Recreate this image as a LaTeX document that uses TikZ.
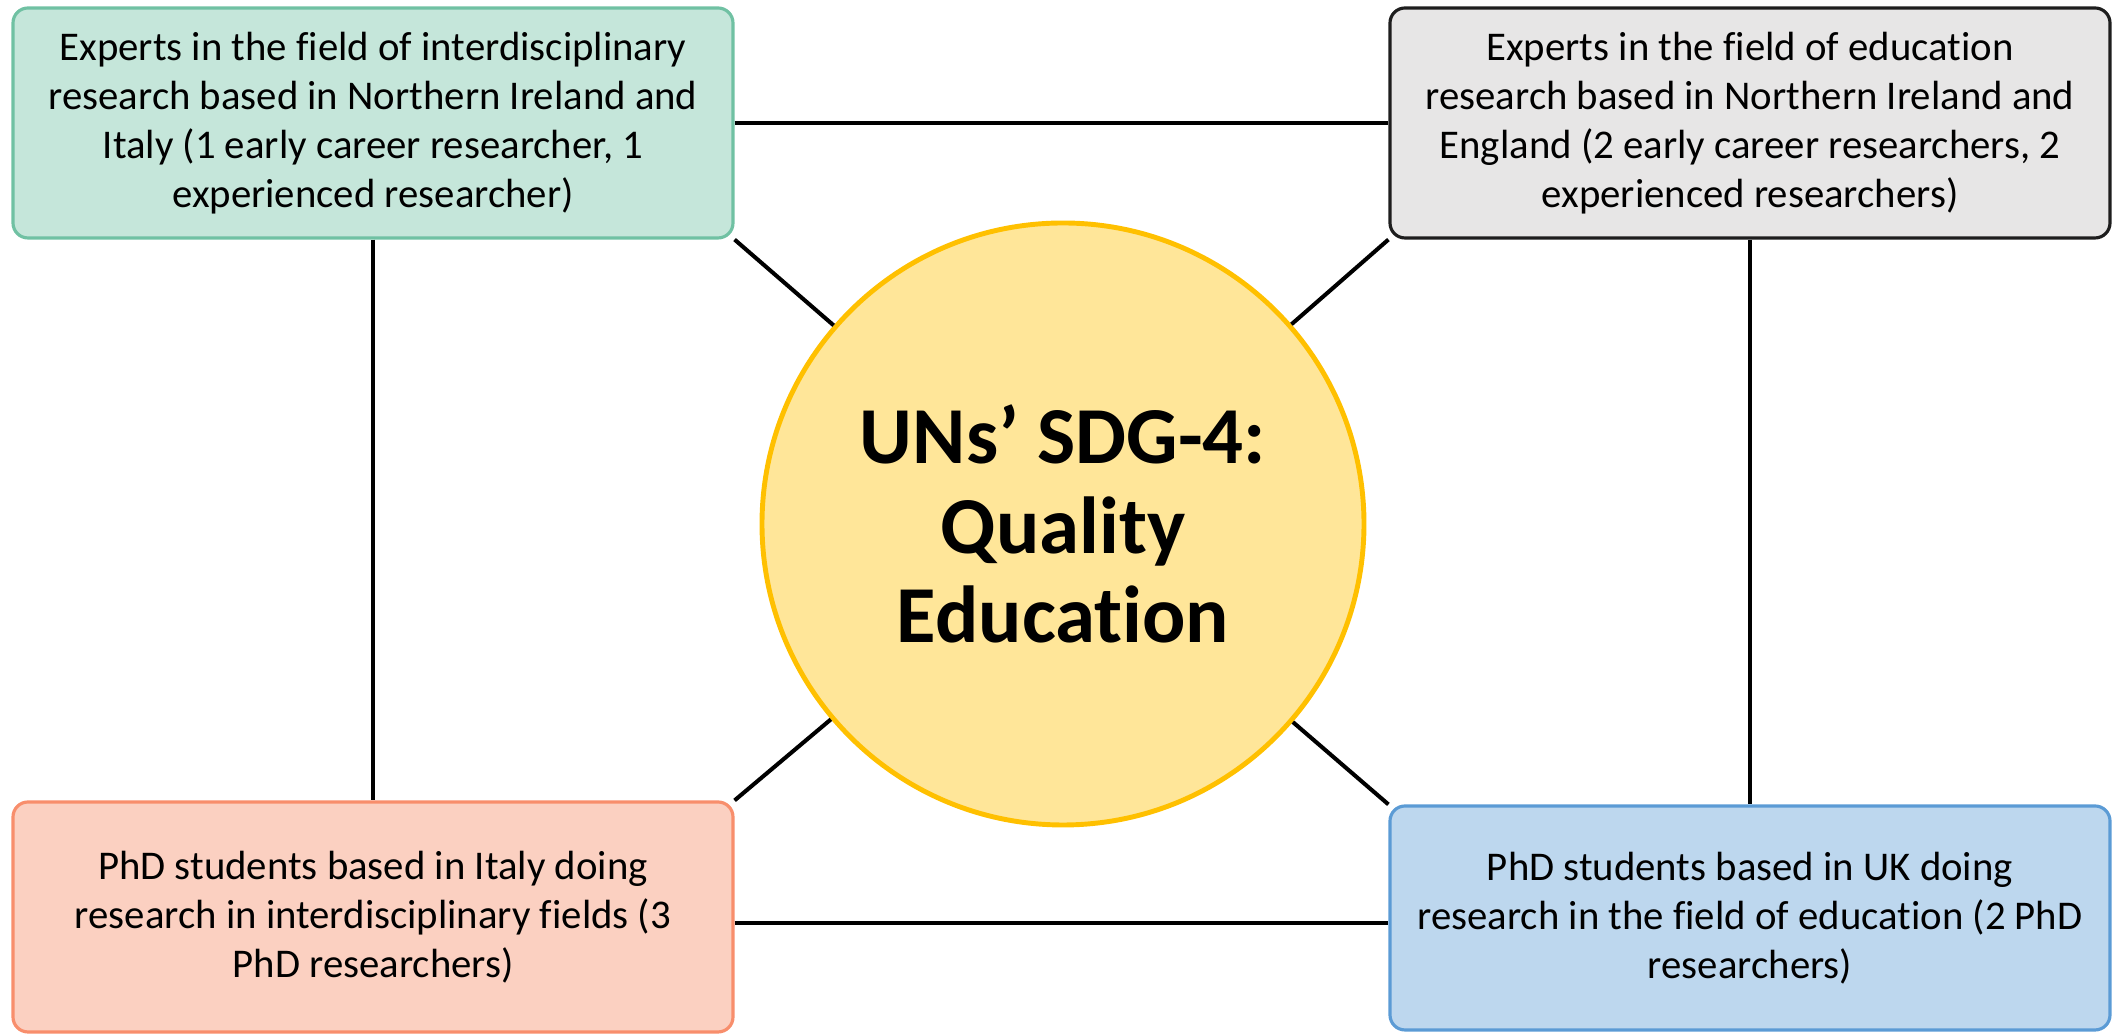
\documentclass[tikz,border=0pt]{standalone}
\usepackage{fontspec}
\setmainfont{Carlito}[Ligatures=NoCommon]
\usetikzlibrary{shapes.geometric, positioning, calc}

\definecolor{greenfill}{HTML}{C5E6DA}
\definecolor{greenline}{HTML}{70C1A3}
\definecolor{grayfill}{HTML}{E7E6E6}
\definecolor{grayline}{HTML}{1E1E1E}
\definecolor{redfill}{HTML}{FBD0C1}
\definecolor{redline}{HTML}{F88E6C}
\definecolor{bluefill}{HTML}{BDD7EE}
\definecolor{blueline}{HTML}{5B9BD5}
\definecolor{hubfill}{HTML}{FFE699}
\definecolor{hubline}{HTML}{FFC000}

\begin{document}
\begin{tikzpicture}[
    box/.style={draw, rounded corners=0.15cm, line width=0.9pt, minimum width=7.2cm, minimum height=2.3cm, align=center, inner sep=0pt, font=\fontsize{11.6}{13.9}\selectfont},
    hub/.style={circle, draw=hubline, fill=hubfill, line width=1.4pt, minimum size=6.02cm, align=center, font=\bfseries\fontsize{23}{25.5}\selectfont},
    link/.style={line width=1.15pt}
]
\useasboundingbox (0,0) rectangle (21.12,10.34);

\node[hub] (sdg) at (10.63,5.10) {UNs’ SDG-4:\\Quality\\Education};
\node[box, draw=greenline, fill=greenfill] (expit) at (3.73,9.11) {Experts in the field of interdisciplinary\\research based in Northern Ireland and\\Italy (1 early career researcher, 1\\experienced researcher)};
\node[box, draw=grayline, fill=grayfill] (expuk) at (17.50,9.11) {Experts in the field of education\\research based in Northern Ireland and\\England (2 early career researchers, 2\\experienced researchers)};
\node[box, draw=redline, fill=redfill] (phdit) at (3.73,1.17) {PhD students based in Italy doing\\research in interdisciplinary fields (3\\PhD researchers)};
\node[box, draw=blueline, fill=bluefill, minimum height=2.24cm] (phduk) at (17.50,1.16) {PhD students based in UK doing\\research in the field of education (2 PhD\\researchers)};

% outer ring
\draw[link] (expit) -- (expuk);
\draw[link] (expit) -- (phdit);
\draw[link] (expuk) -- (phduk);
\draw[link] ([yshift=-0.06cm]phdit.east) -- ([yshift=-0.05cm]phduk.west);

% spokes to the centre
\draw[link] (sdg) -- (expit.south east);
\draw[link] (sdg) -- (expuk.south west);
\draw[link] (sdg) -- (phdit.north east);
\draw[link] (sdg) -- (phduk.north west);
\end{tikzpicture}
\end{document}
